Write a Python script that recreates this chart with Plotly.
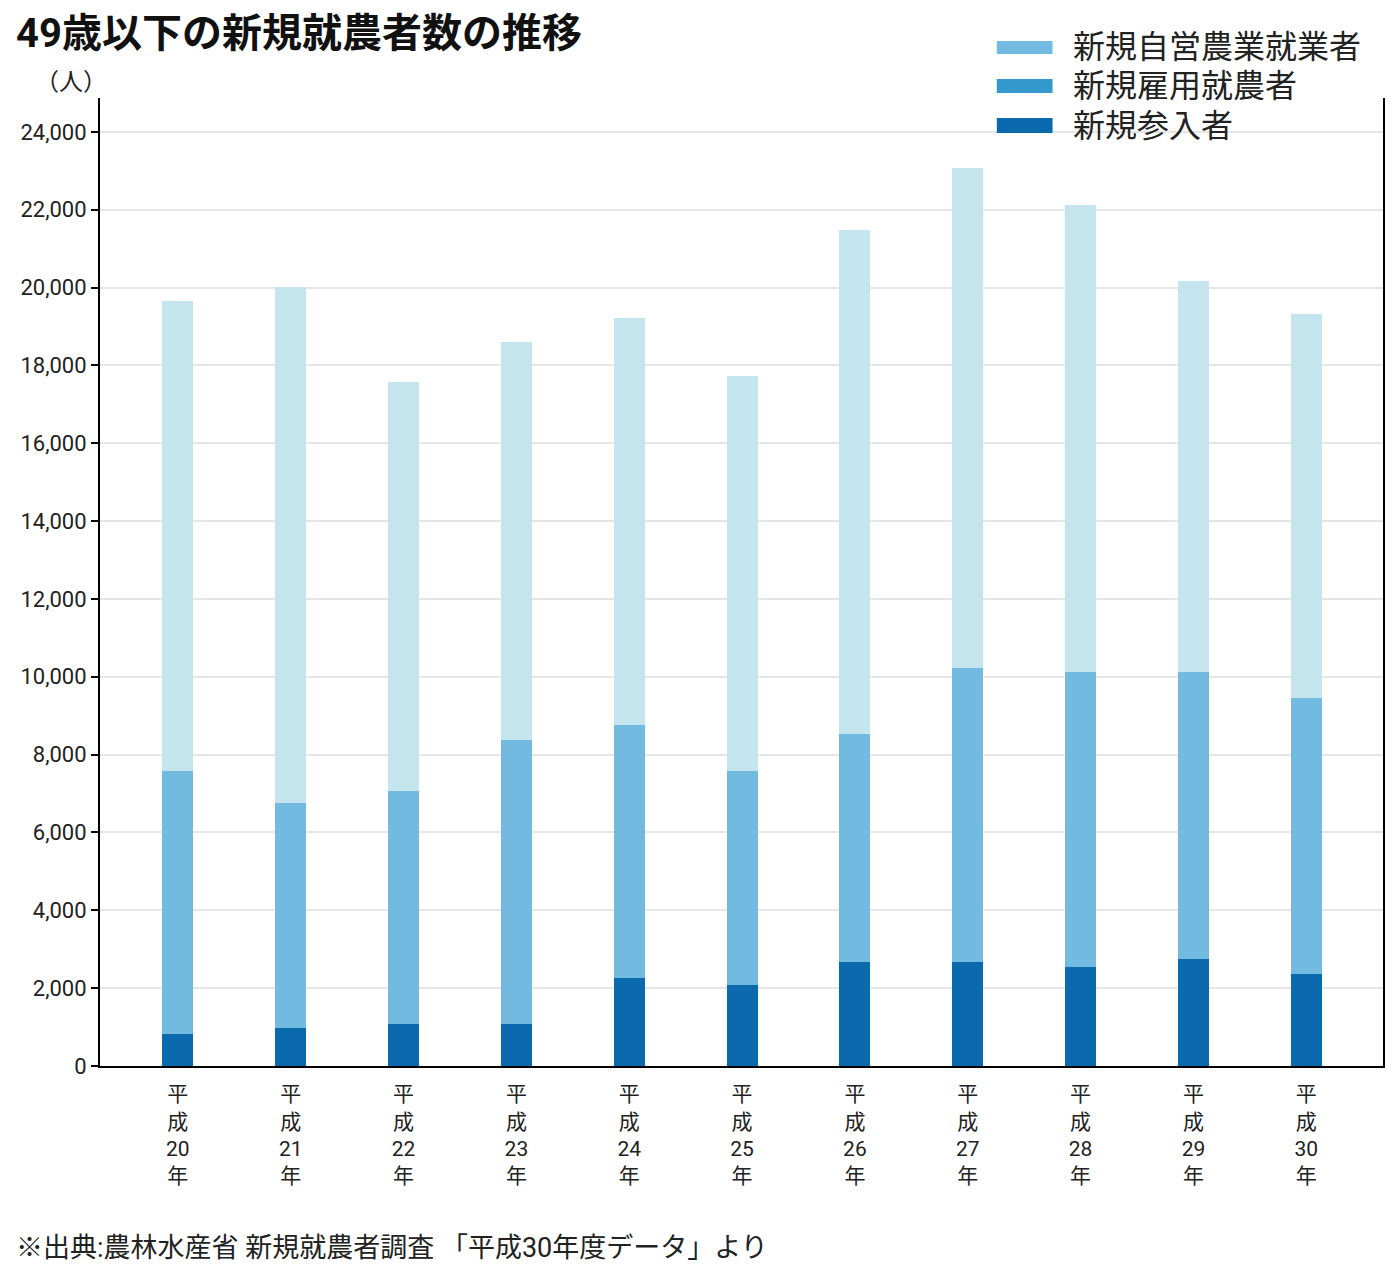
import plotly.graph_objects as go

years = ["平<br>成<br>20<br>年", "平<br>成<br>21<br>年", "平<br>成<br>22<br>年", "平<br>成<br>23<br>年",
         "平<br>成<br>24<br>年", "平<br>成<br>25<br>年", "平<br>成<br>26<br>年", "平<br>成<br>27<br>年",
         "平<br>成<br>28<br>年", "平<br>成<br>29<br>年", "平<br>成<br>30<br>年"]
x_idx = list(range(len(years)))

# values (people)
shinki_sannyu = [820, 980, 1080, 1080, 2260, 2080, 2670, 2670, 2540, 2750, 2360]
koyo_shuno = [6760, 5780, 5990, 7300, 6500, 5500, 5860, 7560, 7580, 7370, 7090]
jiei_nogyo = [12080, 13260, 10510, 10230, 10460, 10150, 12950, 12850, 12000, 10050, 9870]

series_names = ["新規自営農業就業者", "新規雇用就農者", "新規参入者"]
bar_colors = ["#c5e5ee", "#72bae0", "#0a6aad"]
legend_colors = ["#72bae0", "#3399cc", "#0a6aad"]

y_ticks = list(range(0, 24001, 2000))

JP = "Roboto, 'Noto Sans CJK JP', sans-serif"

fig = go.Figure()
for name, vals, col in [(series_names[2], shinki_sannyu, bar_colors[2]),
                        (series_names[1], koyo_shuno, bar_colors[1]),
                        (series_names[0], jiei_nogyo, bar_colors[0])]:
    fig.add_trace(go.Bar(x=x_idx, y=vals, name=name, marker_color=col,
                         marker_line_width=0, width=0.275, showlegend=False))

OFF = 8  # page body margin
W, H = 1400 - OFF, 1270 - OFF
L, T = 94 - OFF, 98 - OFF
R = W - (1383 - OFF)
B = H - (1066 - OFF)
pw, ph = W - L - R, H - T - B

def px(x):
    return (x - OFF - L) / pw

def py(y):
    return (H - B - (y - OFF)) / ph

shapes = []
annotations = []
sw_y = [(41, 54), (79, 93), (118, 133)]
txt_y = [47, 86, 126]
for i, name in enumerate(series_names):
    shapes.append(dict(type="rect", xref="paper", yref="paper", layer="above",
                       x0=px(995), x1=px(1051), y0=py(sw_y[i][1]), y1=py(sw_y[i][0]),
                       fillcolor=legend_colors[i], line_width=0))
    annotations.append(dict(xref="paper", yref="paper", x=px(1070), y=py(txt_y[i]),
                            xanchor="left", yanchor="middle", showarrow=False,
                            text=name, font=dict(size=32, family=JP, color="#222")))

annotations.append(dict(xref="paper", yref="paper", x=px(8), y=py(OFF),
                        xanchor="left", yanchor="top", showarrow=False,
                        text="<b>49歳以下の新規就農者数の推移</b>",
                        font=dict(size=40, family=JP, color="#111")))
annotations.append(dict(xref="paper", yref="paper", x=px(65), y=py(82),
                        xanchor="center", yanchor="middle", showarrow=False,
                        text="（人）", font=dict(size=24, family=JP, color="#222")))
annotations.append(dict(xref="paper", yref="paper", x=px(8), y=py(1248),
                        xanchor="left", yanchor="middle", showarrow=False,
                        text="※出典:農林水産省 新規就農者調査 「平成30年度データ」より",
                        font=dict(size=27, family=JP, color="#222")))

fig.update_layout(
    width=W, height=H,
    barmode="stack",
    plot_bgcolor="white", paper_bgcolor="white",
    margin=dict(l=L, r=R, t=T, b=B),
    shapes=shapes, annotations=annotations,
    font=dict(family=JP, color="#222"),
    xaxis=dict(tickmode="array", tickvals=x_idx, ticktext=years,
               range=[-0.69, 10.68], showline=True, linecolor="black", linewidth=2,
               showgrid=False, ticks="", ticklabelstandoff=8,
               tickfont=dict(size=21, family=JP, color="#222")),
    yaxis=dict(range=[0, 24870], tickvals=y_ticks, tickformat=",",
               showline=True, linecolor="black", linewidth=2, mirror=True,
               ticks="outside", ticklen=7, tickwidth=2, tickcolor="black",
               showgrid=True, gridcolor="#e6e6e6", gridwidth=2, zeroline=False,
               tickfont=dict(size=22, family=JP, color="#222")),
)

fig.write_html("out.html")
